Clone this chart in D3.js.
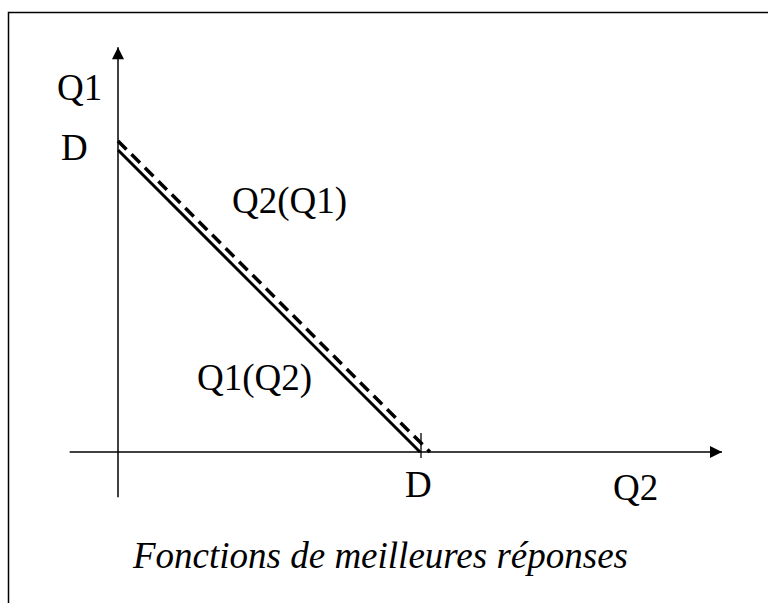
<!DOCTYPE html>
<html>
<head>
<meta charset="utf-8">
<script src="https://cdn.jsdelivr.net/npm/d3@7"></script>
<style>
  body { margin: 0; background: #fff; }
</style>
</head>
<body>
<div id="chart"></div>
<script>
// best response functions (Q1 on vertical axis, Q2 on horizontal)
var D = 1;
var bestQ1 = [{q2: 0, q1: D}, {q2: D, q1: 0}];          // Q1(Q2), solid
var bestQ2 = [{q2: 0, q1: 1.03}, {q2: 1.033, q1: 0}];   // Q2(Q1), dashed
var axisLabels = ["Q1", "Q2"];
var curveLabels = ["Q2(Q1)", "Q1(Q2)"];
var title = "Fonctions de meilleures réponses";

var svg = d3.select("#chart").append("svg")
    .attr("width", 768)
    .attr("height", 603);

// frame (only top and left edges are visible in the original)
svg.append("path")
    .attr("d", "M8.5,700V12.5H800")
    .attr("fill", "none")
    .attr("stroke", "#000")
    .attr("stroke-width", 1.5);

var x = d3.scaleLinear().domain([0, D]).range([118, 420]);
var y = d3.scaleLinear().domain([0, D]).range([452, 150]);

svg.append("defs").append("marker")
    .attr("id", "arrow")
    .attr("viewBox", "0 0 10 10")
    .attr("refX", 10).attr("refY", 5)
    .attr("markerWidth", 14).attr("markerHeight", 12)
    .attr("markerUnits", "userSpaceOnUse")
    .attr("orient", "auto")
  .append("path")
    .attr("d", "M0,0L10,5L0,10Z")
    .attr("fill", "#000");

// axes
svg.append("line")
    .attr("x1", x(-0.16)).attr("y1", y(0))
    .attr("x2", x(2.0)).attr("y2", y(0))
    .attr("stroke", "#000").attr("stroke-width", 1.5)
    .attr("marker-end", "url(#arrow)");
svg.append("line")
    .attr("x1", x(0)).attr("y1", y(-0.15))
    .attr("x2", x(0)).attr("y2", y(1.34))
    .attr("stroke", "#000").attr("stroke-width", 1.5)
    .attr("marker-end", "url(#arrow)");

// tick at D on the Q2 axis
svg.append("line")
    .attr("x1", x(D) + 1).attr("y1", y(0) - 19)
    .attr("x2", x(D) + 1).attr("y2", y(0) + 6)
    .attr("stroke", "#000").attr("stroke-width", 1.3);

var line = d3.line()
    .x(function(d) { return x(d.q2); })
    .y(function(d) { return y(d.q1); });

svg.append("path")
    .datum(bestQ1)
    .attr("d", line)
    .attr("fill", "none")
    .attr("stroke", "#000")
    .attr("stroke-width", 3);

svg.append("path")
    .datum(bestQ2)
    .attr("d", line)
    .attr("fill", "none")
    .attr("stroke", "#000")
    .attr("stroke-width", 3.5)
    .attr("stroke-dasharray", "12,7");

// labels
function label(txt, px, py, italic) {
  svg.append("text")
      .attr("x", px).attr("y", py)
      .attr("font-family", "'Liberation Serif', 'Times New Roman', Tinos, 'DejaVu Serif', serif")
      .attr("font-size", 37)
      .attr("font-style", italic ? "italic" : null)
      .text(txt);
}
label(axisLabels[0], 57, 100);
label("D", 61, 160);
label(curveLabels[0], 232, 213);
label(curveLabels[1], 197, 390);
label("D", 405, 497);
label(axisLabels[1], 613, 500);
label(title, 133, 568, true);
</script>
</body>
</html>
